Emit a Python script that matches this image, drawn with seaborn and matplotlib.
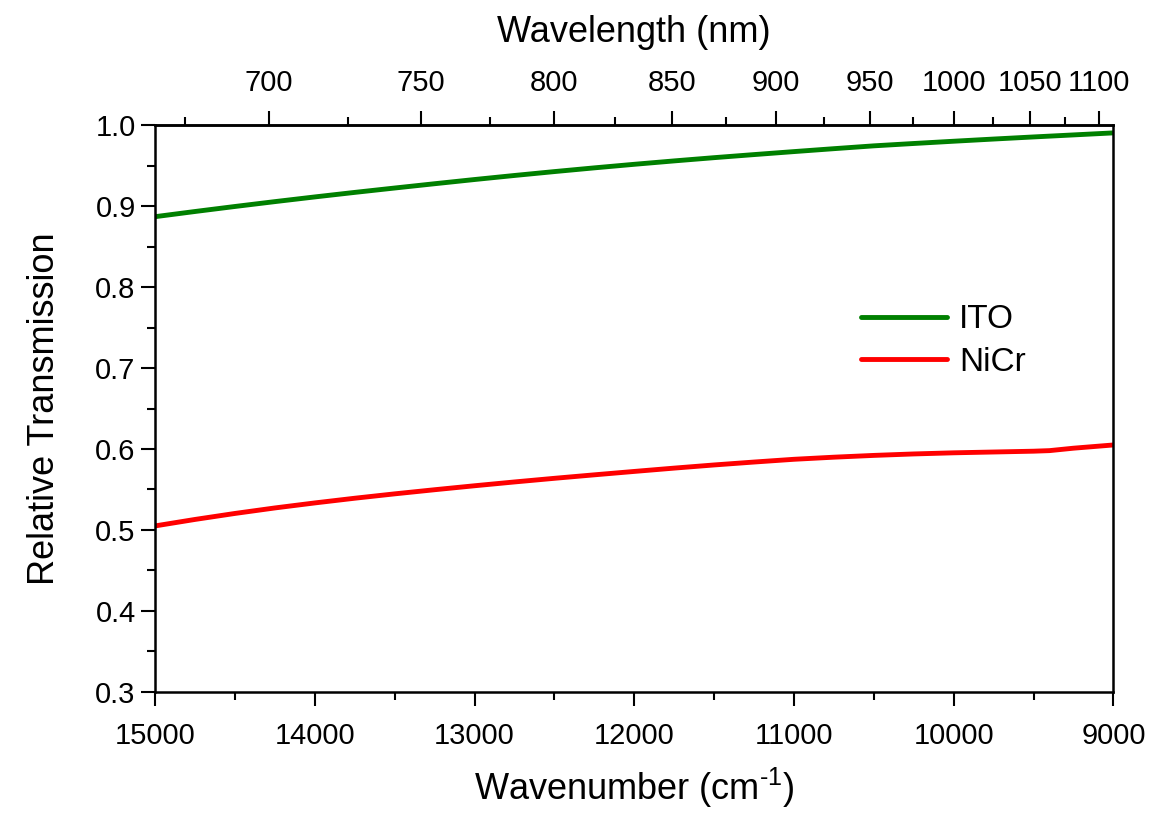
import numpy as np
import pandas as pd
import matplotlib
matplotlib.use("Agg")
import matplotlib.pyplot as plt
import seaborn as sns
from matplotlib.ticker import MultipleLocator, FixedLocator, FormatStrFormatter

wavenumber = [15000, 14750, 14500, 14250, 14000, 13750, 13500, 13250, 13000, 12750, 12500,
              12250, 12000, 11750, 11500, 11250, 11000, 10750, 10500, 10250, 10000,
              9750, 9500, 9400, 9250, 9000]
ito = [0.8870, 0.8934, 0.8996, 0.9056, 0.9114, 0.9170, 0.9224, 0.9277, 0.9329, 0.9379,
       0.9427, 0.9473, 0.9517, 0.9559, 0.9599, 0.9637, 0.9674, 0.9710, 0.9745, 0.9774,
       0.9802, 0.9829, 0.9855, 0.9865, 0.9880, 0.9905]
nicr = [0.5050, 0.5130, 0.5204, 0.5272, 0.5334, 0.5392, 0.5446, 0.5497, 0.5546, 0.5593,
        0.5638, 0.5681, 0.5723, 0.5764, 0.5803, 0.5839, 0.5873, 0.5899, 0.5921, 0.5939,
        0.5953, 0.5963, 0.5973, 0.5980, 0.6010, 0.6050]
series = ["ITO", "NiCr"]
top_ticks = [700, 750, 800, 850, 900, 950, 1000, 1050, 1100]
top_minor = [675, 725, 775, 825, 875, 925, 975, 1025, 1075]

df = pd.DataFrame({
    "Wavenumber": wavenumber * 2,
    "T": ito + nicr,
    "Sample": [series[0]] * len(ito) + [series[1]] * len(nicr),
})

sns.set_style("ticks")
plt.rcParams["font.family"] = ["Liberation Sans", "DejaVu Sans"]
plt.rcParams["mathtext.fontset"] = "custom"
plt.rcParams["mathtext.rm"] = "Liberation Sans"
for k in ["text.color", "axes.labelcolor", "xtick.color", "ytick.color", "axes.edgecolor"]:
    plt.rcParams[k] = "black"

fig = plt.figure(figsize=(11.49, 8.13), dpi=100)
ax = fig.add_axes([0.135, 0.149, 0.834, 0.697])
sns.lineplot(data=df, x="Wavenumber", y="T", hue="Sample",
             palette={"ITO": "#008000", "NiCr": "#ff0000"}, linewidth=3.5, ax=ax,
             legend=True)

ax.set_xlim(15000, 9000)
ax.set_ylim(0.3, 1.0)
ax.xaxis.set_major_locator(MultipleLocator(1000))
ax.xaxis.set_minor_locator(MultipleLocator(500))
ax.yaxis.set_major_locator(MultipleLocator(0.1))
ax.yaxis.set_minor_locator(MultipleLocator(0.05))
ax.yaxis.set_major_formatter(FormatStrFormatter("%.1f"))
ax.tick_params(which="major", direction="out", length=10, width=1.5, labelsize=21)
ax.tick_params(which="minor", direction="out", length=6, width=1.5)
ax.tick_params(axis="x", pad=12)
ax.tick_params(axis="y", pad=4)
for s in ax.spines.values():
    s.set_visible(True)
    s.set_linewidth(1.8)

ax.set_xlabel("Wavenumber (cm$^{\\text{-1}}$)", fontsize=26, labelpad=11)
ax.set_ylabel("Relative Transmission", fontsize=26, labelpad=24)

sec = ax.secondary_xaxis("top", functions=(lambda x: 1e7 / np.asarray(x, float),
                                           lambda x: 1e7 / np.asarray(x, float)))
sec.xaxis.set_major_locator(FixedLocator(top_ticks))
sec.xaxis.set_minor_locator(FixedLocator(top_minor))
sec.tick_params(which="major", direction="out", length=10, width=1.5, labelsize=21, pad=10)
sec.tick_params(which="minor", direction="out", length=6, width=1.5)
sec.spines["top"].set_linewidth(1.8)
sec.set_xlabel("Wavelength (nm)", fontsize=26, labelpad=20)

leg = ax.legend(title=None, frameon=False, fontsize=24, loc="upper left",
                bbox_to_anchor=(0.705, 0.737), handlelength=2.6, handletextpad=0.35,
                labelspacing=0.35)
for h in leg.get_lines():
    h.set_linewidth(3.5)
    h.set_solid_capstyle("round")

fig.savefig("out.png", dpi=100, facecolor="white")
